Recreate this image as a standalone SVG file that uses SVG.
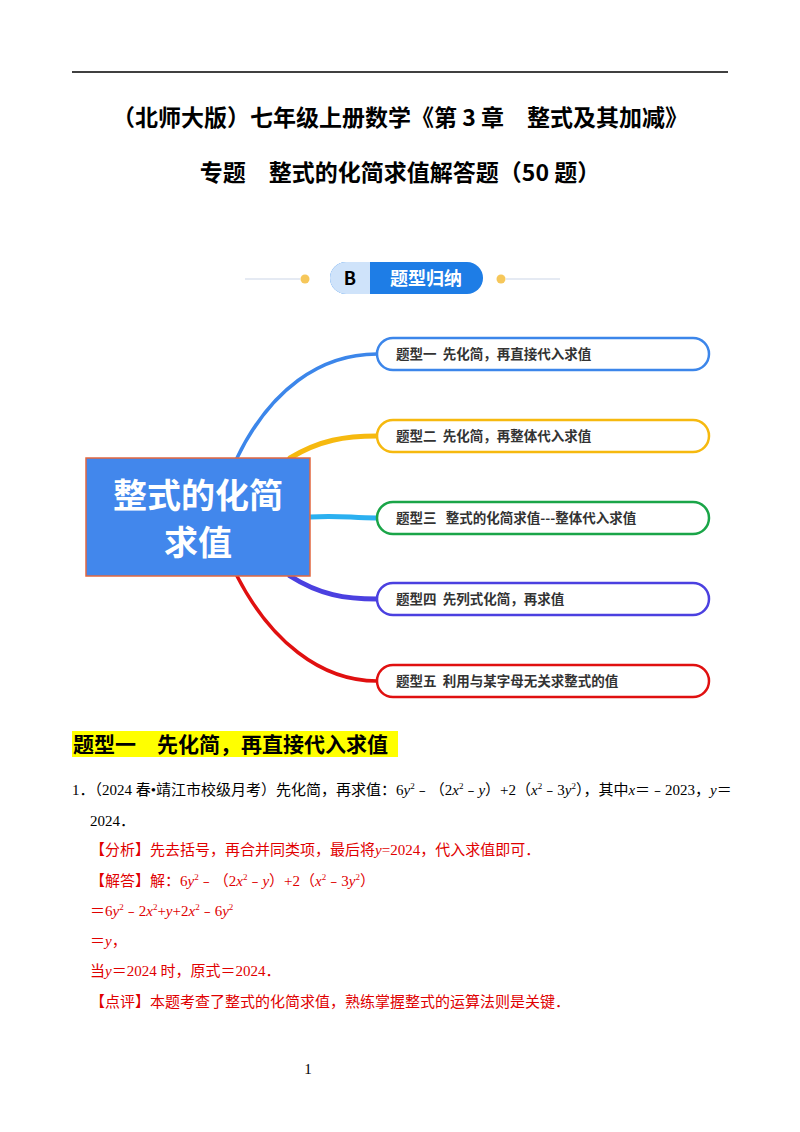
<svg xmlns="http://www.w3.org/2000/svg" width="800" height="1132" viewBox="0 0 800 1132">
<style>
.t{font-family:"Noto Sans CJK SC","Liberation Sans",sans-serif;font-weight:bold;fill:#000}
.n{font-family:"Noto Sans CJK SC",sans-serif;font-weight:bold;font-size:13.5px;fill:#333;white-space:pre}
.b{font-family:"Liberation Serif","Noto Sans CJK SC",serif;font-size:15px;fill:#000}
.r{font-family:"Liberation Serif","Noto Sans CJK SC",serif;font-size:15px;fill:#e00000}
.pill{fill:#fff;stroke-width:2.5}
.c{fill:none;stroke-linecap:round}
</style>
<rect width="800" height="1132" fill="#fff"/>
<line x1="72" y1="72" x2="728" y2="72" stroke="#000" stroke-width="1.3"/>
<text class="t" x="400" y="126" font-size="23" text-anchor="middle">（北师大版）七年级上册数学《第 3 章　整式及其加减》</text>
<text class="t" x="400" y="181" font-size="23" text-anchor="middle">专题　整式的化简求值解答题（50 题）</text>
<g id="badge">
<line x1="245" y1="279" x2="300" y2="279" stroke="#dde3ef" stroke-width="1.5"/>
<line x1="506" y1="279" x2="560" y2="279" stroke="#dde3ef" stroke-width="1.5"/>
<circle cx="305" cy="279" r="4.5" fill="#f6c75a"/>
<circle cx="501" cy="279" r="4.5" fill="#f6c75a"/>
<rect x="330" y="262" width="153" height="32" rx="16" fill="#1e7de6"/>
<path d="M346 262 H370 V294 H346 A16 16 0 0 1 346 262 Z" fill="#cfe3fa"/>
<text class="t" x="350" y="285" font-size="18" text-anchor="middle" font-family="Liberation Sans,sans-serif">B</text>
<text class="t" x="426" y="285" font-size="18" text-anchor="middle" style="fill:#fff">题型归纳</text>
</g>
<g id="connectors">
<path class="c" d="M237 458 C270 390 320 354 377 354" stroke="#3c86ea" stroke-width="3.5"/>
<path class="c" d="M290 458 C320 440 345 436 377 436" stroke="#f6b90f" stroke-width="5"/>
<path class="c" d="M310 517 C340 515 350 518 377 518" stroke="#2bb0f0" stroke-width="5"/>
<path class="c" d="M290 576 C320 595 345 599 377 599" stroke="#4b40e0" stroke-width="5"/>
<path class="c" d="M237 576 C270 640 320 681 377 681" stroke="#e01010" stroke-width="3.5"/>
</g>
<g id="center">
<rect x="86" y="458" width="224" height="118" fill="#4287ec" stroke="#e2673f" stroke-width="1.5"/>
<text class="t" x="198" y="508" font-size="34" text-anchor="middle" style="fill:#fff">整式的化简</text>
<text class="t" x="198" y="555" font-size="34" text-anchor="middle" style="fill:#fff">求值</text>
</g>
<g id="n1"><rect class="pill" x="377" y="338" width="332" height="32" rx="16" stroke="#3c86ea"/><text class="n" x="396" y="359">题型一  先化简，再直接代入求值</text></g>
<g id="n2"><rect class="pill" x="377" y="420" width="332" height="32" rx="16" stroke="#f6b90f"/><text class="n" x="396" y="441">题型二  先化简，再整体代入求值</text></g>
<g id="n3"><rect class="pill" x="377" y="502" width="332" height="32" rx="16" stroke="#1aa548"/><text class="n" x="396" y="523">题型三   整式的化简求值---整体代入求值</text></g>
<g id="n4"><rect class="pill" x="377" y="583" width="332" height="32" rx="16" stroke="#4b40e0"/><text class="n" x="396" y="604">题型四  先列式化简，再求值</text></g>
<g id="n5"><rect class="pill" x="377" y="665" width="332" height="32" rx="16" stroke="#e01010"/><text class="n" x="396" y="686">题型五  利用与某字母无关求整式的值</text></g>
<rect x="72" y="731" width="326" height="26" fill="#ffff00"/>
<text class="t" x="73" y="752" font-size="21">题型一　先化简，再直接代入求值</text>
<text class="b" x="72" y="795">1．（2024 春•靖江市校级月考）先化简，再求值：6<tspan font-style="italic">y</tspan><tspan dy="-6" font-size="9">2</tspan><tspan dy="6">﹣（2</tspan><tspan font-style="italic">x</tspan><tspan dy="-6" font-size="9">2</tspan><tspan dy="6">﹣</tspan><tspan font-style="italic">y</tspan>）+2（<tspan font-style="italic">x</tspan><tspan dy="-6" font-size="9">2</tspan><tspan dy="6">﹣3</tspan><tspan font-style="italic">y</tspan><tspan dy="-6" font-size="9">2</tspan><tspan dy="6">），其中</tspan><tspan font-style="italic">x</tspan>＝﹣2023，<tspan font-style="italic">y</tspan>＝</text>
<text class="b" x="90" y="826">2024．</text>
<text class="r" x="90" y="855">【分析】先去括号，再合并同类项，最后将<tspan font-style="italic">y</tspan>=2024，代入求值即可．</text>
<text class="r" x="90" y="886">【解答】解：6<tspan font-style="italic">y</tspan><tspan dy="-6" font-size="9">2</tspan><tspan dy="6">﹣（2</tspan><tspan font-style="italic">x</tspan><tspan dy="-6" font-size="9">2</tspan><tspan dy="6">﹣</tspan><tspan font-style="italic">y</tspan>）+2（<tspan font-style="italic">x</tspan><tspan dy="-6" font-size="9">2</tspan><tspan dy="6">﹣3</tspan><tspan font-style="italic">y</tspan><tspan dy="-6" font-size="9">2</tspan><tspan dy="6">）</tspan></text>
<text class="r" x="90" y="916">＝6<tspan font-style="italic">y</tspan><tspan dy="-6" font-size="9">2</tspan><tspan dy="6">﹣2</tspan><tspan font-style="italic">x</tspan><tspan dy="-6" font-size="9">2</tspan><tspan dy="6">+</tspan><tspan font-style="italic">y</tspan>+2<tspan font-style="italic">x</tspan><tspan dy="-6" font-size="9">2</tspan><tspan dy="6">﹣6</tspan><tspan font-style="italic">y</tspan><tspan dy="-6" font-size="9">2</tspan></text>
<text class="r" x="90" y="946">＝<tspan font-style="italic">y</tspan>，</text>
<text class="r" x="90" y="976">当<tspan font-style="italic">y</tspan>＝2024 时，原式＝2024．</text>
<text class="r" x="90" y="1007">【点评】本题考查了整式的化简求值，熟练掌握整式的运算法则是关键．</text>
<text class="b" x="308" y="1074" font-size="11" text-anchor="middle">1</text>
</svg>
